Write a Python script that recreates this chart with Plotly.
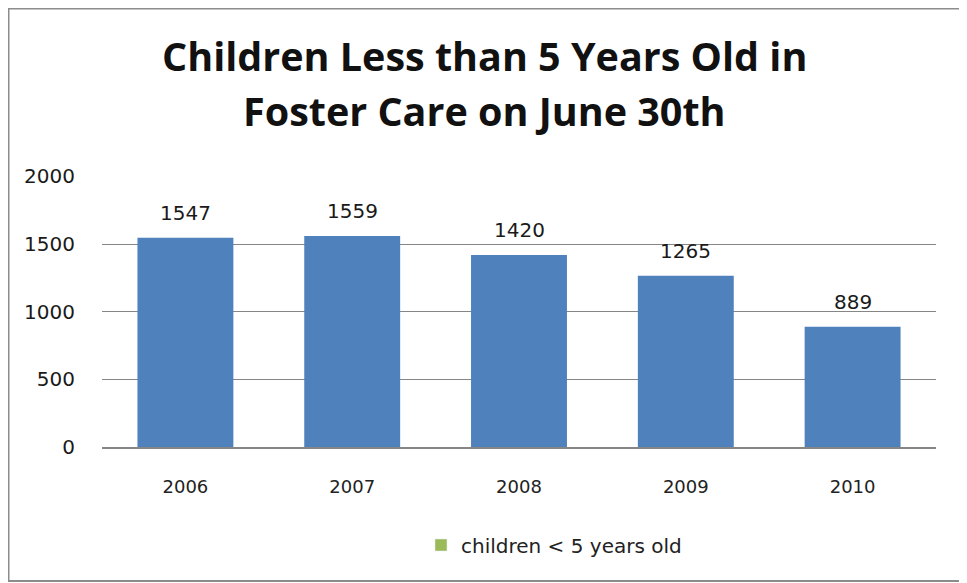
import plotly.graph_objects as go

categories = ["2006", "2007", "2008", "2009", "2010"]
values = [1547, 1559, 1420, 1265, 889]
series_name = "children < 5 years old"
title_lines = ["Children Less than 5 Years Old in", "Foster Care on June 30th"]
y_ticks = [0, 500, 1000, 1500, 2000]

W, H = 959, 575          # page body has an 8px margin
L, R, T, B = 94, 31, 168, 136
PW, PH = W - L - R, H - T - B


def px(xf):  # figure x pixel -> paper
    return (xf - L) / PW


def py(yf):  # figure y pixel -> paper
    return (H - B - yf) / PH


fig = go.Figure()
fig.add_trace(go.Bar(
    x=categories, y=values, name=series_name,
    marker=dict(color="#4F81BD", line=dict(width=0)),
    showlegend=False, width=0.575,
))
# legend swatch as shown in the reference (green)
fig.add_trace(go.Bar(
    x=[None], y=[None], name=series_name,
    marker=dict(color="#9BBB59"), showlegend=True,
))

label_font = dict(family="DejaVu Sans, sans-serif", size=20, color="#1a1a1a")
title_font = dict(family="Open Sans, sans-serif", size=39.5, color="#111111", weight="bold")
annotations = [
    dict(text=title_lines[0], x=px(476.5), xref="paper", xanchor="center",
         y=py(48), yref="paper", yanchor="middle", showarrow=False, font=title_font),
    dict(text=title_lines[1], x=px(476.5), xref="paper", xanchor="center",
         y=py(103), yref="paper", yanchor="middle", showarrow=False, font=title_font),
]
# value labels: category axis positions are indices
for i, v in enumerate(values):
    annotations.append(dict(text=str(v), x=i, y=v, xref="x", yref="y",
                            yanchor="middle", yshift=25, showarrow=False, font=label_font))

fig.update_layout(
    width=W, height=H,
    paper_bgcolor="white", plot_bgcolor="white",
    margin=dict(l=L, r=R, t=T, b=B),
    annotations=annotations,
    bargap=0.425,
    showlegend=True,
    legend=dict(
        orientation="h", x=px(546), xanchor="center", xref="paper",
        y=1 - 537 / H, yref="container", yanchor="middle",
        font=dict(family="DejaVu Sans, sans-serif", size=20, color="#222222"),
    ),
    shapes=[dict(
        type="rect", xref="paper", yref="paper",
        x0=px(0.5), x1=px(957), y0=py(573), y1=py(0.5),
        line=dict(color="#8C8C8C", width=2), fillcolor="rgba(0,0,0,0)", layer="below",
    )],
)
fig.update_yaxes(
    range=[0, 2003], tickvals=y_ticks, showgrid=True, gridcolor="#868686", gridwidth=1,
    zeroline=False, showline=False, ticks="", ticklabelstandoff=26,
    tickfont=dict(family="DejaVu Sans, sans-serif", size=20, color="#1a1a1a"),
)
fig.update_xaxes(
    type="category", categoryorder="array", categoryarray=categories,
    range=[-0.5, len(categories) - 0.5],
    showline=True, linecolor="#868686", linewidth=2, ticks="",
    ticklabelstandoff=22,
    tickfont=dict(family="DejaVu Sans, sans-serif", size=18, color="#222222"),
)

fig.write_html("out.html")
